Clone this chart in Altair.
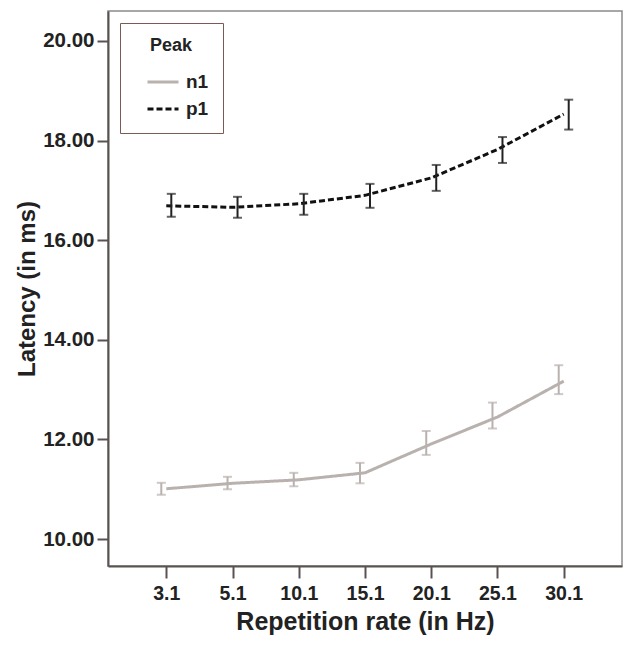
import altair as alt
import pandas as pd

rates = ["3.1", "5.1", "10.1", "15.1", "20.1", "25.1", "30.1"]
n1_mean = [11.01, 11.12, 11.19, 11.33, 11.91, 12.45, 13.17]
n1_lo = [10.89, 11.00, 11.06, 11.12, 11.69, 12.22, 12.91]
n1_hi = [11.13, 11.25, 11.33, 11.53, 12.17, 12.74, 13.49]
p1_mean = [16.69, 16.66, 16.73, 16.90, 17.25, 17.82, 18.53]
p1_lo = [16.47, 16.45, 16.51, 16.65, 16.99, 17.55, 18.22]
p1_hi = [16.93, 16.87, 16.93, 17.13, 17.51, 18.07, 18.82]

rows = []
for i, r in enumerate(rates):
    rows.append({"rate": r, "peak": "n1", "mean": n1_mean[i], "lo": n1_lo[i], "hi": n1_hi[i]})
    rows.append({"rate": r, "peak": "p1", "mean": p1_mean[i], "lo": p1_lo[i], "hi": p1_hi[i]})
df = pd.DataFrame(rows)

FONT = "Liberation Sans"
xscale = alt.Scale(type="point", padding=0.88)
xenc = alt.X("rate:N", sort=rates, scale=xscale,
             axis=alt.Axis(title="Repetition rate (in Hz)", labelAngle=0))
yscale = alt.Scale(domain=[9.46, 20.6], nice=False, zero=False)
yenc = alt.Y("mean:Q", scale=yscale,
             axis=alt.Axis(title="Latency (in ms)", values=[10, 12, 14, 16, 18, 20],
                           format=".2f", grid=False))

leg = dict(title="Peak", symbolType="stroke", symbolSize=961, symbolStrokeWidth=3)
color = alt.Color("peak:N", scale=alt.Scale(domain=["n1", "p1"], range=["#b9b1ae", "#111111"]),
                  legend=alt.Legend(**leg))
dash = alt.StrokeDash("peak:N", scale=alt.Scale(domain=["n1", "p1"], range=[[1, 0], [6, 3]]),
                      legend=alt.Legend(**leg))

base = alt.Chart(df)
lines = base.mark_line(strokeWidth=3).encode(x=xenc, y=yenc, color=color, strokeDash=dash)

layers = [lines]
for pk, off, col in [("n1", -5, "#b9b1ae"), ("p1", 5, "#222222")]:
    sub = base.transform_filter(alt.datum.peak == pk)
    layers.append(sub.mark_rule(color=col, strokeWidth=2, xOffset=off).encode(
        x=alt.X("rate:N", sort=rates, scale=xscale), y=alt.Y("lo:Q", scale=yscale), y2="hi:Q"))
    for fld in ["lo", "hi"]:
        layers.append(sub.mark_tick(color=col, thickness=2, size=9, xOffset=off).encode(
            x=alt.X("rate:N", sort=rates, scale=xscale), y=alt.Y(f"{fld}:Q", scale=yscale)))

chart = alt.layer(*layers).properties(
    width=514, height=555,
    autosize=alt.AutoSizeParams(type="none"),
    padding={"left": 100, "top": 3, "right": 2, "bottom": 71},
).configure(
    font=FONT, background="white"
).configure_view(stroke="#8a8a8a", strokeWidth=1.5).configure_axis(
    domainColor="#5a5250", domainWidth=2, tickColor="#5a5250", tickWidth=2,
    labelFont=FONT, labelFontWeight="bold", labelColor="#222",
    titleFont=FONT, titleFontWeight="bold", titleColor="#222",
).configure_axisX(titlePadding=7, titleFontSize=25, labelFontSize=19.5, labelPadding=6,
                  tickSize=12).configure_axisY(
    titlePadding=3, titleFontSize=24, labelFontSize=20.5, labelPadding=3, tickSize=11
).configure_legend(
    orient="top-left", offset=12, padding=14, strokeColor="#7b5a55", fillColor="white",
    titleFont=FONT, titleFontSize=18, titleFontWeight="bold", titleColor="#222",
    titleAnchor="middle", titlePadding=10, symbolOffset=12,
    labelFont=FONT, labelFontSize=19, labelFontWeight="bold", labelColor="#222",
    rowPadding=0, labelOffset=6
)

chart.save("out.html", embed_options={"renderer": "svg", "actions": False})
